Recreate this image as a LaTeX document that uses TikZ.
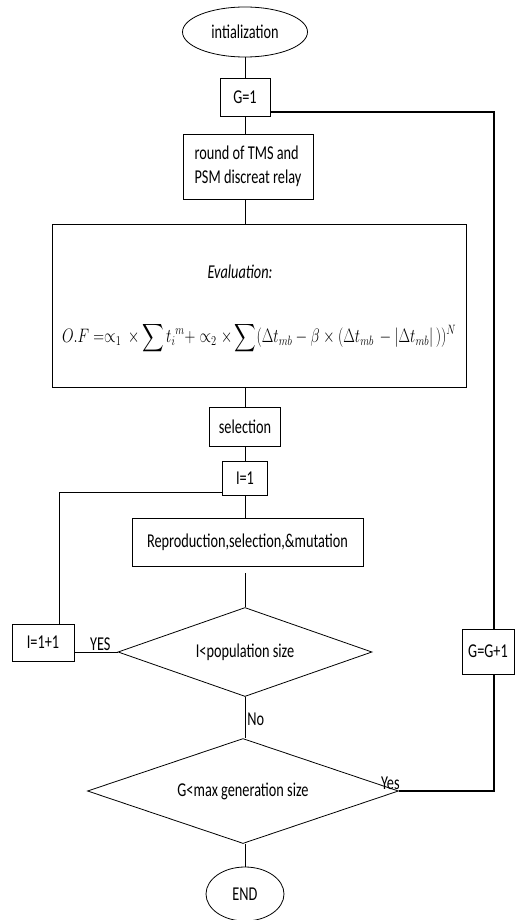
\documentclass[tikz,border=0pt]{standalone}
\usepackage{amsmath}
\usepackage{fontspec}
\setmainfont{Carlito}[FakeStretch=0.73]
\usetikzlibrary{shapes.geometric}
\edef\lx{59}
\edef\rx{494}

\tikzset{
  box/.style={draw, line width=0.8pt, inner sep=0pt, align=center},
  term/.style={draw, ellipse, line width=0.8pt, inner sep=0pt},
  test/.style={draw, diamond, line width=0.8pt, inner sep=0pt, aspect=2.9},
  link/.style={line width=0.8pt},
  loop/.style={line width=1.4pt},
}

\begin{document}
\begin{tikzpicture}[x=1pt, y=-1pt, font=\fontsize{19.6}{24}\selectfont]
  \useasboundingbox (0,0) rectangle (515,920);

  % draw the main column
  \node[term, minimum width=125pt, minimum height=50pt] (init) at (245,32) {intialization};
  \node[box, minimum width=50pt, minimum height=38pt] (g1) at (245,97) {G=1};
  \node[box, minimum width=130pt, minimum height=65pt, align=left] (rnd) at (248,166.5) {round of TMS and\\PSM discreat relay};
  \node[box, minimum width=414pt, minimum height=163pt] (eval) at (259,305.5) {};
  \node (evtitle) at (240,272) {\textit{Evaluation:}};
  \node (evform) at (259,338) {\scalebox{1}[1.3]{\resizebox{394pt}{!}{$\displaystyle O.F =\propto_1\,\times \sum t_i{}^m +\propto_2\times\sum(\Delta t_{mb} -\beta\times(\Delta t_{mb}\ -|\Delta t_{mb}|\,))^N$}}};
  \node[box, minimum width=71pt, minimum height=39pt] (sel) at (245,426.5) {selection};
  \node[box, minimum width=45pt, minimum height=34pt] (i1) at (245,478) {I=1};
  \node[box, minimum width=231pt, minimum height=48pt] (rep) at (247.5,542) {Reproduction,selection,\&mutation};
  \node[test, minimum width=254pt, minimum height=89pt] (d1) at (245,652) {I<population size};
  \node[test, minimum width=311pt, minimum height=105pt] (d2) at (243,791) {G<max generation size};
  \node[term, minimum width=78pt, minimum height=54pt] (end) at (245,894) {END};

  % draw the side boxes
  \node[box, minimum width=62pt, minimum height=37pt] (ip1) at (43,642.5) {I=1+1};
  \node[box, minimum width=52pt, minimum height=45pt] (gp1) at (488,651.5) {G=G+1};

  % main flow
  \draw[link] (init.south -| g1) -- (g1);
  \draw[link] (g1) -- (g1 |- rnd.north);
  \draw[link] (rnd.south -| g1) -- (eval.north -| g1);
  \draw[link] (eval.south -| g1) -- (sel);
  \draw[link] (sel) -- (i1);
  \draw[link] (i1) -- (i1 |- rep.north);
  \draw[link] ([yshift=-7pt]rep.south -| d1) -- (d1);
  \draw[link] (d1.south) -- node[right, pos=0.55, inner sep=2pt] (no) {No} (d1.south |- d2.north);
  \draw[link] (d2.south -| end) -- (end);

  % inner loop
  \coordinate (lt) at (\lx,492);
  \draw[link] (d1.west) -- node[above, pos=0.4, inner sep=1pt] (yesI) {YES} (d1.west -| ip1.east);
  \draw[link] (i1.west |- lt) -- (lt) -- (lt |- ip1.north);

  % outer loop
  \coordinate (rt) at (\rx,112);
  \coordinate (rb) at (\rx,791);
  \draw[loop] (g1.east |- rt) -- (rt) -- (rt |- gp1.north);
  \draw[loop] (d2.east) -- (rb) -- (rb |- gp1.south);
  \node[above left, inner sep=1pt, xshift=2pt] (yesG) at (d2.east) {Yes};
\end{tikzpicture}
\end{document}
